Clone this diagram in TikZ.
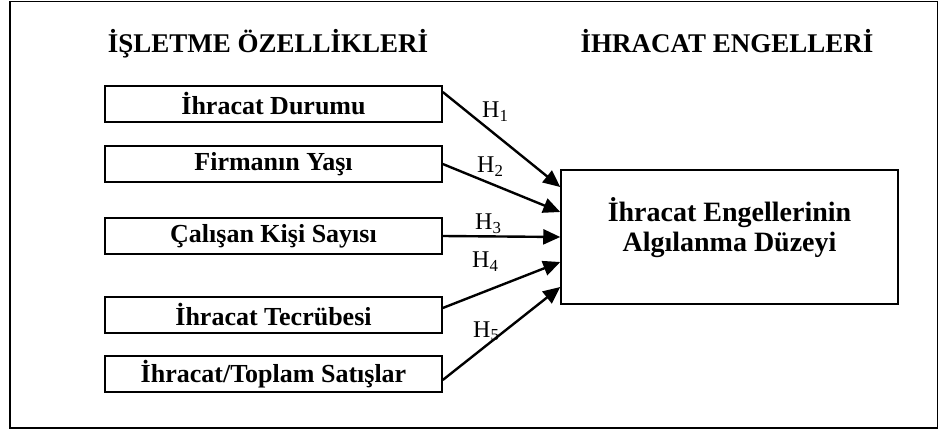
\documentclass[tikz,border=0pt]{standalone}
\usepackage{fontspec}
\setmainfont{Liberation Serif}
\usetikzlibrary{arrows.meta}
\begin{document}
\begin{tikzpicture}[x=1pt,y=-1pt,
  frame/.style={draw=black,line width=1.6pt},
  factorbox/.style={draw=black,line width=1.5pt,minimum width=337pt,minimum height=36pt,inner sep=0pt,
    font=\fontsize{26}{30}\selectfont\bfseries},
  titletext/.style={font=\fontsize{27}{30}\selectfont\bfseries,anchor=base,inner sep=0pt},
  hyp/.style={draw=black,line width=2.4pt,-{Triangle[length=17pt,width=15pt]}},
  hlabel/.style={font=\fontsize{24}{26}\selectfont,anchor=base west,inner sep=0pt}]
\useasboundingbox (0,0) rectangle (939,430);
\draw[frame] (10,1.5) rectangle (937.5,428);
\node[titletext] (tl) at (268,53) {İŞLETME ÖZELLİKLERİ};
\node[titletext] (tr) at (727,53) {İHRACAT ENGELLERİ};
\node[factorbox] (b1) at (273.5,104) {İhracat Durumu};
\node[factorbox] (b2) at (273.5,164) {Firmanın Yaşı};
\node[factorbox] (b3) at (273.5,236) {Çalışan Kişi Sayısı};
\node[factorbox] (b4) at (273.5,315) {İhracat Tecrübesi};
\node[factorbox] (b5) at (273.5,374) {İhracat/Toplam Satışlar};
\node[draw=black,line width=1.5pt,minimum width=337pt,minimum height=134pt,inner sep=0pt] (R) at (729.5,237) {};
\node[font=\fontsize{28}{30}\selectfont\bfseries,align=center,anchor=base,inner sep=0pt] (Rt) at (729.5,252) {İhracat Engellerinin\\Algılanma Düzeyi};
\draw[hyp] ([yshift=12pt]b1.east) -- ([yshift=50pt]R.west);
\draw[hyp] (b2.east) -- ([yshift=25pt]R.west);
\draw[hyp] (b3.east) -- (R.west);
\draw[hyp] ([yshift=7pt]b4.east) -- ([yshift=-25pt]R.west);
\draw[hyp] ([yshift=-6pt]b5.east) -- ([yshift=-50pt]R.west);
\node[hlabel] (h1) at (482,118) {H\textsubscript{1}};
\node[hlabel] (h2) at (477,173) {H\textsubscript{2}};
\node[hlabel] (h3) at (475,230) {H\textsubscript{3}};
\node[hlabel] (h4) at (472,268) {H\textsubscript{4}};
\node[hlabel] (h5) at (473,337) {H\textsubscript{5}};
\end{tikzpicture}
\end{document}
